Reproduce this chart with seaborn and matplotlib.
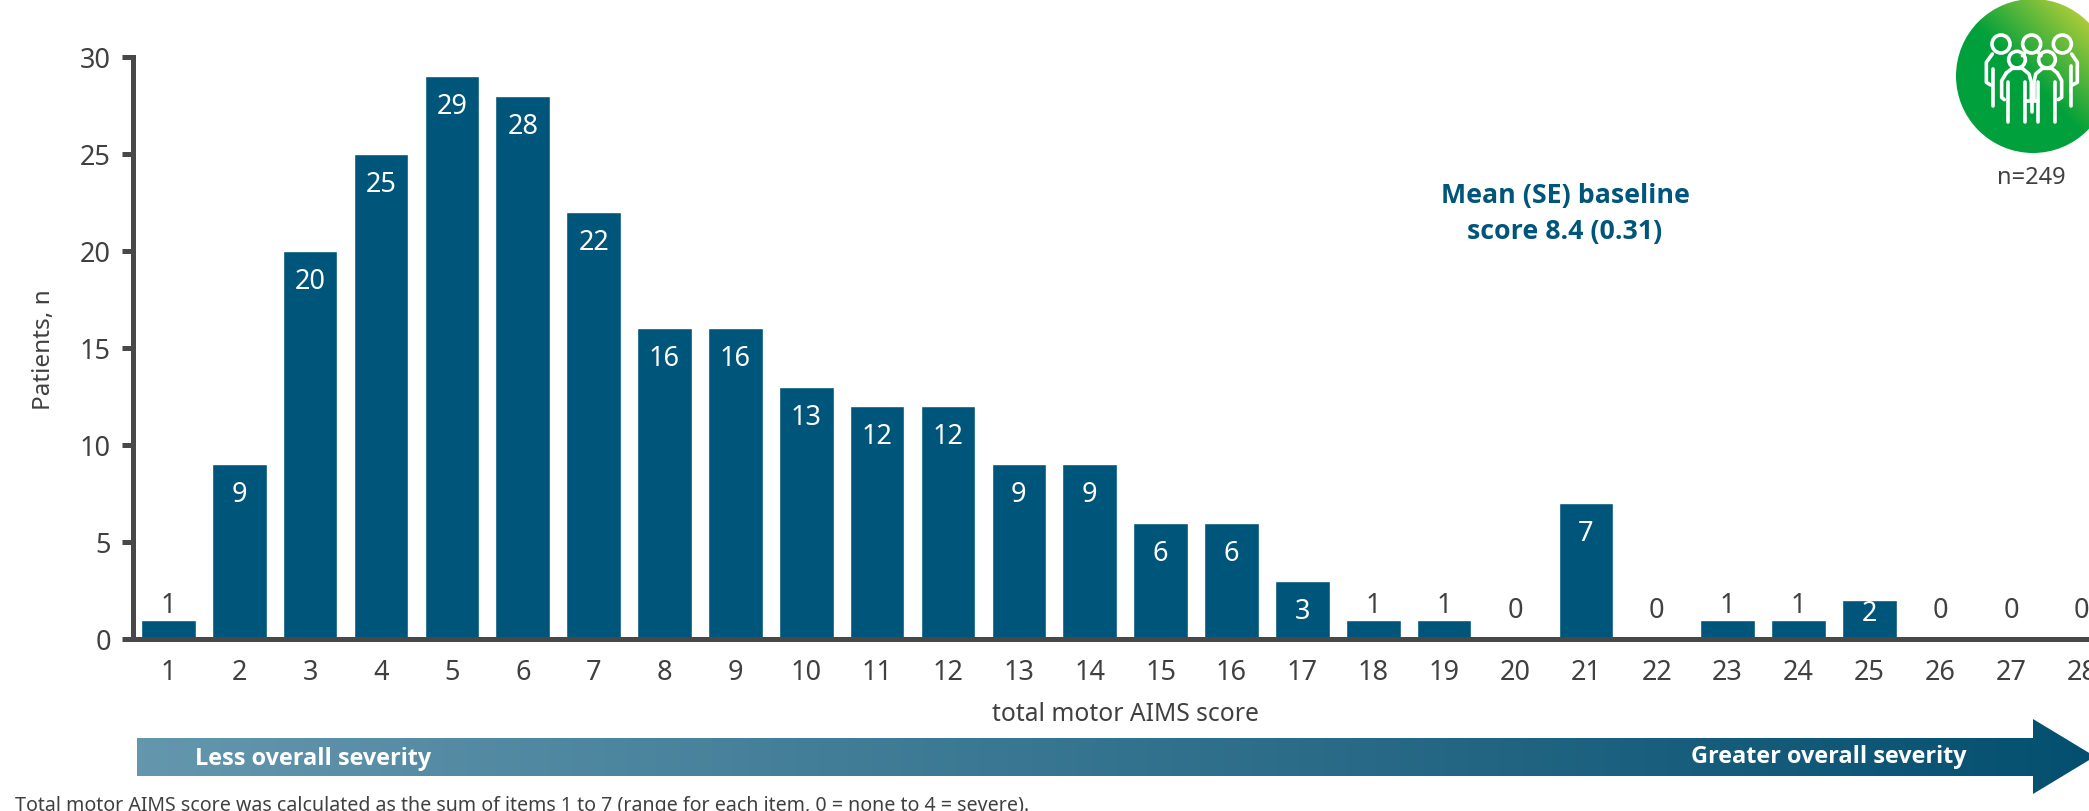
import numpy as np
import matplotlib
matplotlib.use("Agg")
import matplotlib.pyplot as plt
from matplotlib.colors import LinearSegmentedColormap
from matplotlib.patches import Circle, Polygon
import seaborn as sns

scores = [str(i) for i in range(1, 29)]
patients = [1, 9, 20, 25, 29, 28, 22, 16, 16, 13, 12, 12, 9, 9, 6, 6, 3, 1, 1, 0, 7, 0, 1, 1, 2, 0, 0, 0]
y_ticks = [0, 5, 10, 15, 20, 25, 30]

W, H = 2089, 812
BLUE = "#00567a"
GREY = "#404040"

sns.set_theme(style="white")
plt.rcParams["font.family"] = ["Noto Sans", "DejaVu Sans"]

fig = plt.figure(figsize=(W / 100, H / 100), dpi=100, facecolor="white")
ax = fig.add_axes([133 / W, 1 - 640 / H, (W - 133) / W, 582.3 / H])

sns.barplot(x=scores, y=patients, color=BLUE, saturation=1, width=0.77, ax=ax)
ax.set_xlim(-0.5, 27.1)
ax.set_ylim(0, 30)
ax.set_yticks(y_ticks)
sns.despine(ax=ax)
for side in ["left", "bottom"]:
    ax.spines[side].set_linewidth(3.6)
    ax.spines[side].set_color("#484848")
ax.tick_params(axis="y", length=8, width=3.6, color="#484848", labelsize=19.5, labelcolor=GREY, pad=8, left=True)
ax.tick_params(axis="x", length=0, labelsize=19.5, labelcolor=GREY, pad=14)
ax.set_xlabel("")
ax.set_ylabel("")

# value labels: white inside tall bars, grey above the tiny ones
for i, v in enumerate(patients):
    if v >= 3:
        off, col = -30, "white"
    elif v == 2:
        off, col = -13, "white"
    elif v == 1:
        off, col = 15, GREY
    else:
        off, col = 29, GREY
    ax.annotate(str(v), (i, v), xytext=(0, off * 0.72), textcoords="offset points",
                ha="center", va="center", color=col, fontsize=19.5)

# overlay in pixel coordinates for arrow, icon and free text
ov = fig.add_axes([0, 0, 1, 1], zorder=5)
ov.patch.set_alpha(0)
ov.axis("off")

arrow_pts = [(136.5, 739), (2033, 739), (2033, 720), (2095, 757.5), (2033, 795), (2033, 777), (136.5, 777)]
arrow_cmap = LinearSegmentedColormap.from_list("sev", ["#6497ae", "#044f6f"])
im = ov.imshow(np.linspace(0, 1, 512)[None, :], cmap=arrow_cmap, extent=(136.5, 2095, 795, 720), aspect="auto")
im.set_clip_path(Polygon(arrow_pts, closed=True, transform=ov.transData))

cx, cy, r = 2033, 77, 77
gx, gy = np.meshgrid(np.linspace(-1, 1, 300), np.linspace(-1, 1, 300))
circle_cmap = LinearSegmentedColormap.from_list("grn", ["#00a03c", "#00a03c", "#a8cb3a"])
im2 = ov.imshow((gx - gy + 2) / 4, cmap=circle_cmap, vmin=0.1, vmax=0.85,
                extent=(cx - r, cx + r, cy + r, cy - r), aspect="auto")
im2.set_clip_path(Circle((cx, cy), r, transform=ov.transData))


def icon(x, y):
    # zoom-crop coordinates of the icon to figure pixels
    return 1929 + np.asarray(x) / 3, np.asarray(y) / 3


def stroke(x, y):
    px, py = icon(x, y)
    ov.plot(px, py, color="white", lw=2.6, solid_capstyle="round", solid_joinstyle="round")


# heads
for hx, hy, hr in [(216, 135, 27), (308, 135, 27), (400, 135, 27), (264, 182, 25), (354, 182, 25)]:
    px, py = icon(hx, hy)
    ov.add_patch(Circle((px, py), hr / 3, fill=False, ec="white", lw=2.6))

# back row shoulders and arms
stroke([192, 192], [210, 322])
stroke([425, 425], [200, 322])
stroke([190, 172, 172, 185], [165, 190, 250, 258])
stroke([428, 445, 445, 430], [165, 190, 250, 258])
stroke([290, 280], [158, 170])
stroke([326, 336], [158, 170])
# front row bodies
stroke([232, 218, 218, 226], [222, 245, 295, 302])
stroke([238, 238], [250, 368])
stroke([288, 288], [248, 368])
stroke([232, 250, 280, 300, 307, 307], [222, 208, 208, 225, 250, 300])
stroke([288, 328], [305, 305])
stroke([308, 308], [305, 340])
stroke([385, 398, 398, 388], [222, 245, 295, 302])
stroke([378, 378], [250, 368])
stroke([328, 328], [248, 368])
stroke([385, 368, 340, 320, 315, 315], [222, 208, 208, 225, 250, 300])

ov.set_xlim(0, W)
ov.set_ylim(H, 0)

BOLD = dict(ha="center", va="center", fontweight="bold", family="Open Sans")
ov.text(44, 350, "Patients, n", rotation=90, ha="center", va="center", fontsize=17.5, color=GREY)
ov.text(1125, 715, "total motor AIMS score", ha="center", va="center", fontsize=17.7, color=GREY)
ov.text(2031, 178, "n=249", ha="center", va="center", fontsize=17, color=GREY)
ov.text(1565, 196, "Mean (SE) baseline", fontsize=19.3, color=BLUE, **BOLD)
ov.text(1565, 232, "score 8.4 (0.31)", fontsize=19.3, color=BLUE, **BOLD)
ov.text(313, 759, "Less overall severity", fontsize=16.9, color="white", **BOLD)
ov.text(1829, 757, "Greater overall severity", fontsize=16.9, color="white", **BOLD)
ov.text(15, 806, "Total motor AIMS score was calculated as the sum of items 1 to 7 (range for each item, 0 = none to 4 = severe).",
        ha="left", va="center", fontsize=14.1, color=GREY)

fig.savefig("out.png", dpi=100)
